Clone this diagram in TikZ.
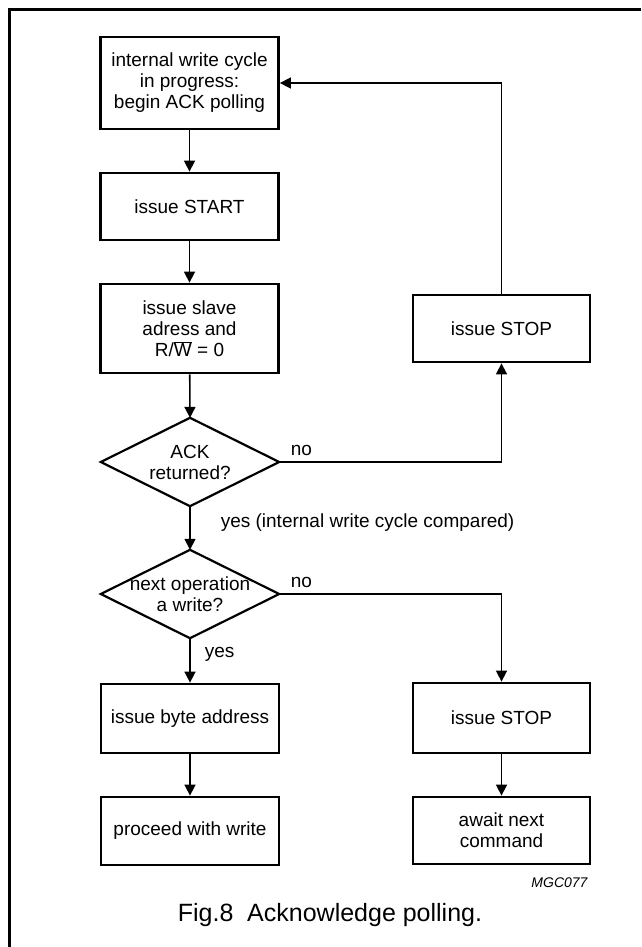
\documentclass[tikz,border=0pt]{standalone}
\usepackage{fontspec}
\setmainfont{Liberation Sans}
\usetikzlibrary{arrows.meta}

\begin{document}
\begin{tikzpicture}[x=1pt, y=-1pt,
    box/.style={draw, line width=2.8pt, minimum width=178pt, inner sep=0pt, align=center, font=\fontsize{19}{21}\selectfont},
    decision/.style={minimum width=178pt, minimum height=88pt, inner sep=0pt, align=center, font=\fontsize{19}{21}\selectfont},
    flow/.style={line width=1.6pt, -{Triangle[length=11pt, width=11pt]}},
    lbl/.style={inner sep=0pt, font=\fontsize{19}{21}\selectfont}]

    % Fix the page to the size of the scanned figure
    \useasboundingbox (0,0) rectangle (641,947);

    % Frame: only the left and top edges are printed
    \draw[line width=3pt] (9.5,947) -- (9.5,10) -- (641,10);

    % Left column of boxes
    \node[box, minimum height=92pt] (poll) at (189.5,83) {internal write cycle\\in progress:\\begin ACK polling};
    \node[box, minimum height=67pt] (start) at (189.5,206.5) {issue START};
    \node[box, minimum height=89pt] (slave) at (189.5,328.5) {issue slave\\adress and\\R/$\overline{\mbox{W}}$ = 0};

    % Decisions (diamond drawn from the node's anchors)
    \node[decision] (ack) at (190,462) {ACK\\returned?};
    \draw[line width=2.2pt] (ack.north) -- (ack.east) -- (ack.south) -- (ack.west) -- cycle;
    \node[decision] (nextop) at (190,594) {next operation\\a write?};
    \draw[line width=2.2pt] (nextop.north) -- (nextop.east) -- (nextop.south) -- (nextop.west) -- cycle;

    \node[box, minimum height=69pt] (byte) at (190,718.5) {issue byte address};
    \node[box, minimum height=68pt] (proceed) at (190,831) {proceed with write};

    % Right column of boxes
    \node[box, minimum width=177pt, minimum height=67pt] (stopa) at (501.5,328.5) {issue STOP};
    \node[box, minimum width=177pt, minimum height=70pt] (stopb) at (501.5,718) {issue STOP};
    \node[box, minimum width=177pt, minimum height=67pt] (await) at (501.5,830.5) {await next\\command};

    % Connectors
    \draw[flow] (poll) -- (start);
    \draw[flow] (start) -- (slave);
    \draw[flow] (slave) -- (ack.north);
    \draw[flow] (ack.south) -- node[lbl, pos=0.38, right=30pt] {yes (internal write cycle compared)} (nextop.north);
    \draw[flow] (nextop.south) -- node[lbl, pos=0.37, right=14pt] {yes} (byte);
    \draw[flow] (byte) -- (proceed);
    \draw[flow] (ack.east) -| node[lbl, pos=0.05, above=6pt] {no} (stopa.south);
    \draw[flow] (stopa.north) |- (poll.east);
    \draw[flow] (nextop.east) -| node[lbl, pos=0.05, above=6pt] {no} (stopb.north);
    \draw[flow] (stopb) -- (await);

    % Figure code and caption
    \node[anchor=base east, font=\itshape\fontsize{14}{16}\selectfont] (code) at (591,887) {MGC077};
    \node[anchor=base, font=\fontsize{25}{30}\selectfont] (caption) at (330,921) {Fig.8\hspace{0.55em}Acknowledge polling.};

\end{tikzpicture}
\end{document}
